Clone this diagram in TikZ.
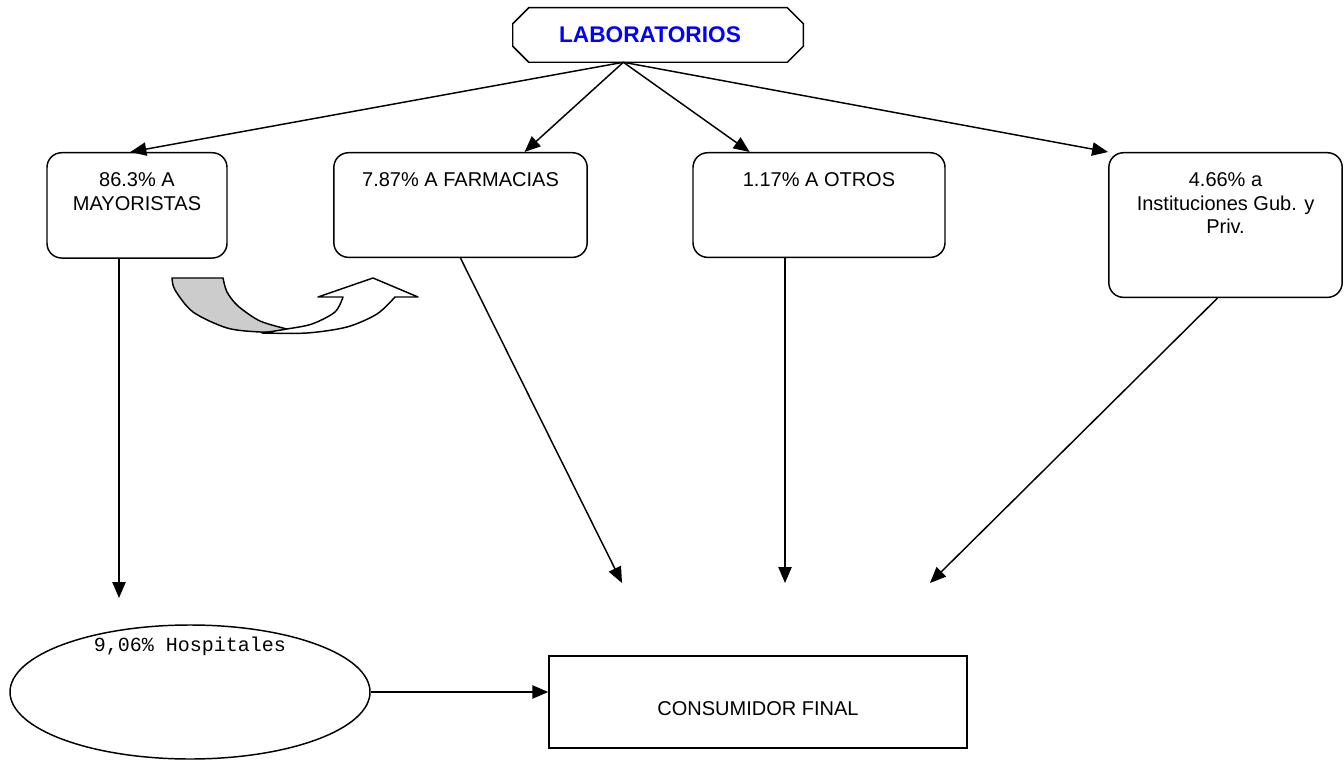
\documentclass[tikz,border=0pt]{standalone}
\usepackage{fontspec}
\setmainfont{Liberation Sans}
\setmonofont{Liberation Mono}
\usetikzlibrary{arrows.meta,positioning,shapes.geometric}
\definecolor{LabBlue}{HTML}{0000FF}
\definecolor{FoldGray}{HTML}{CCCCCC}

\begin{document}
\begin{tikzpicture}[x=0.75pt,y=-0.75pt,
  chan/.style={rectangle,rounded corners=11pt,draw,line width=1.1pt,align=center,
               anchor=north,inner xsep=4pt,inner ysep=15pt,
               font=\fontsize{15}{17.5}\selectfont},
  arrow/.style={-{Triangle[length=12pt,width=10pt]},line width=1.1pt}
]
  \useasboundingbox (0,0) rectangle (1344,762);
  \node[minimum width=217.5pt,minimum height=40.5pt,
        font=\bfseries\fontsize{17}{20}\selectfont,text=LabBlue] (lab) at (658,35)
        {LABORATORIOS\hspace*{12pt}};
  \draw[line width=1.1pt]
    ([xshift=12pt]lab.north west) -- ([xshift=-12pt]lab.north east)
    -- ([yshift=-12pt]lab.north east) -- ([yshift=12pt]lab.south east)
    -- ([xshift=-12pt]lab.south east) -- ([xshift=12pt]lab.south west)
    -- ([yshift=12pt]lab.south west) -- ([yshift=-12pt]lab.north west) -- cycle;
  \node[chan,minimum width=135pt,text depth=21pt] (may) at (137,152) {86.3\% A\\MAYORISTAS};
  \node[chan,minimum width=190pt,text depth=38pt] (farm) at (460.5,152) {7.87\% A FARMACIAS};
  \node[chan,minimum width=189pt,text depth=38pt] (otros) at (819,152) {1.17\% A OTROS};
  \node[chan,minimum width=175pt,text depth=33pt] (inst) at (1225.5,152)
        {4.66\% a\\Instituciones Gub. y\\Priv.};
  \node[ellipse,draw,line width=1.1pt,minimum width=270pt,minimum height=100.5pt] (hosp) at (190,692) {};
  \node[below=6pt of hosp.north,font=\ttfamily\fontsize{15}{17}\selectfont] (hosptxt) {9,06\% Hospitales};
  \node[draw,line width=1.1pt,minimum width=313.5pt,minimum height=69pt,text height=21pt,
        font=\fontsize{15}{17.5}\selectfont] (cons) at (758,702) {CONSUMIDOR FINAL};

  \coordinate (labfoot) at ([xshift=-26pt]lab.south);
  \coordinate (hfoot) at (119,598);
  \coordinate (cfarm) at (622,583);
  \coordinate (cotros) at (785,583);
  \coordinate (cinst) at (930,583);

  \draw[arrow] (labfoot)--([xshift=-5pt]may.north);
  \draw[arrow] (labfoot)--([xshift=48pt]farm.north);
  \draw[arrow] (labfoot)--([xshift=-52pt]otros.north);
  \draw[arrow] (labfoot)--(inst.north west);
  \draw[arrow] ([xshift=-13.5pt]may.south)--(hfoot);
  \draw[arrow] (farm.south)--(cfarm);
  \draw[arrow] ([xshift=-25.5pt]otros.south)--(cotros);
  \draw[arrow] ([xshift=-6pt]inst.south)--(cinst);
  \draw[arrow] (hosp.east)--(hosp.east -| cons.west);

  \filldraw[fill=FoldGray,line width=1.1pt,line join=round]
    plot[smooth] coordinates {(172,278) (175,290) (193,312) (227,328) (260,332) (290,332)}
    -- plot[smooth] coordinates {(287,329) (260,321) (238,306) (227,292) (223,278)} -- cycle;
  \filldraw[fill=white,line width=1.1pt,line join=round]
    plot[smooth] coordinates {(262,333) (307,333) (347,327) (377,314) (395,297)}
    -- (418,297) -- (373,278) -- (318,297) -- (343,297)
    -- plot[smooth] coordinates {(343,297) (335,312) (312,324) (287,329) (262,333)} -- cycle;
\end{tikzpicture}
\end{document}
